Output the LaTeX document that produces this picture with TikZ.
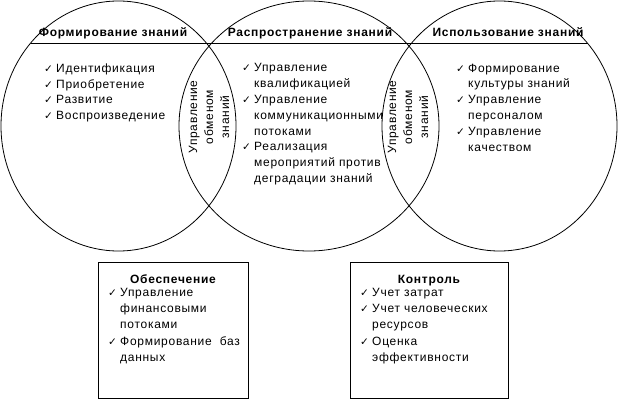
\documentclass[tikz,border=0pt]{standalone}
\usepackage{fontspec}
\setmainfont[LetterSpace=6]{Liberation Sans}
\newfontfamily\symf{DejaVu Sans}
\newcommand\ck{\makebox[12pt][l]{\symf\fontsize{10.5}{10.5}\selectfont ✓}}
\newcommand\ind{\hspace*{12pt}}
\begin{document}
\begin{tikzpicture}[x=1pt,y=-1pt,
  every node/.style={inner sep=0pt},
  txt/.style={font=\fontsize{12}{15.8}\selectfont, align=left, anchor=north west},
  btxt/.style={font=\fontsize{12}{16.2}\selectfont, align=left, anchor=north west},
  ttl/.style={font=\bfseries\fontsize{12}{14}\selectfont, anchor=base},
  rot/.style={font=\fontsize{12}{16}\selectfont, align=center, rotate=90},
  shp/.style={draw=black, line width=0.8pt}]
\useasboundingbox (0,0) rectangle (620,401);
% circles
\draw[shp] (118.5,126) ellipse [x radius=117.5, y radius=125];
\draw[shp] (309,126) ellipse [x radius=130, y radius=125];
\draw[shp] (499.5,126) ellipse [x radius=117.5, y radius=125];
\draw[shp] (30.5,43) -- (587.5,43);
% titles
\node[ttl] (t1) at (113,37) {Формирование знаний};
\node[ttl] (t2) at (310,37) {Распространение знаний};
\node[ttl] (t3) at (508,37) {Использование знаний};
% lists
\node[txt] (l1) at (44,63.5) {\ck Идентификация\\\ck Приобретение\\\ck Развитие\\\ck Воспроизведение};
\node[txt] (l2) at (242,63.5) {\ck Управление\\\ind квалификацией\\\ck Управление\\\ind коммуникационными\\\ind потоками\\\ck Реализация\\\ind мероприятий против\\\ind деградации знаний};
\node[txt] (l3) at (456,63.5) {\ck Формирование\\\ind культуры знаний\\\ck Управление\\\ind персоналом\\\ck Управление\\\ind качеством};
% lens labels
\node[rot] (r1) at (209,117) {Управление\\обменом\\знаний};
\node[rot] (r2) at (408,117) {Управление\\обменом\\знаний};
% boxes
\node[shp, minimum width=150, minimum height=136, anchor=north west] (b1) at (98,262) {};
\node[shp, minimum width=158, minimum height=136, anchor=north west] (b2) at (350,262) {};
\node[ttl] (bt1) at (173,283) {Обеспечение};
\node[ttl] (bt2) at (429,283) {Контроль};
\node[btxt] (bl1) at (108,288) {\ck Управление\\\ind финансовыми\\\ind потоками\\\ck Формирование\ \ баз\\\ind данных};
\node[btxt] (bl2) at (360,288) {\ck Учет затрат\\\ck Учет человеческих\\\ind ресурсов\\\ck Оценка\\\ind эффективности};
\end{tikzpicture}
\end{document}
